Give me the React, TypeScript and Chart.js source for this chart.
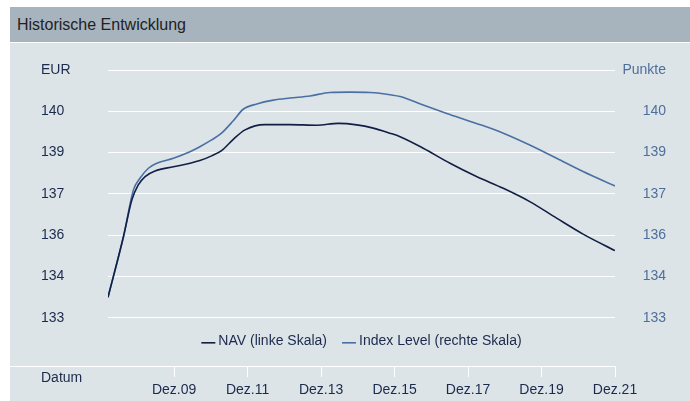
import React, { useEffect, useRef } from "react";
import { Chart, registerables } from "chart.js";

Chart.register(...registerables);

// ---- data ----
const navYears = [
  2008.15, 2008.57, 2008.8, 2008.97, 2009.16, 2009.43, 2009.93, 2010.38, 2010.65, 2010.97,
  2011.24, 2011.56, 2011.88, 2012.42, 2013.1, 2013.83, 2014.42, 2014.92, 2015.37, 2015.82,
  2016.1, 2016.73, 2017.46, 2018.18, 2018.91, 2019.63, 2020.36, 2021.08, 2021.95,
];
const navValues = [
  133.7, 135.75, 137.0, 137.5, 137.79, 137.98, 138.12, 138.24, 138.33, 138.49,
  138.67, 139.05, 139.37, 139.55, 139.55, 139.53, 139.59, 139.54, 139.43, 139.26,
  139.14, 138.75, 138.24, 137.79, 137.39, 136.94, 136.38, 135.84, 135.28,
];
const indexYears = [
  2008.15, 2008.57, 2008.84, 2009.02, 2009.25, 2009.48, 2009.93, 2010.38, 2010.65, 2010.97,
  2011.24, 2011.56, 2011.83, 2012.2, 2012.65, 2013.1, 2013.65, 2014.19, 2014.73, 2015.28,
  2015.55, 2016.1, 2016.73, 2017.37, 2018.18, 2018.91, 2019.63, 2020.36, 2021.08, 2021.95,
];
const indexValues = [
  133.7, 135.75, 137.33, 137.73, 138.07, 138.24, 138.41, 138.63, 138.8, 139.03,
  139.26, 139.68, 140.07, 140.25, 140.38, 140.45, 140.52, 140.64, 140.65, 140.64,
  140.61, 140.5, 140.21, 139.93, 139.59, 139.26, 138.86, 138.41, 137.96, 137.47,
];
const seriesLabels = ["NAV (linke Skala)", "Index Level (rechte Skala)"];
const yTickValues = [133, 134.4, 135.8, 137.2, 138.6, 140, 141.4];
const yMin = 131.37;
const yMax = 141.4;
const leftUnit = "EUR";
const rightUnit = "Punkte";
const xTickValues = [2009.95, 2011.95, 2013.95, 2015.95, 2017.95, 2019.95, 2021.95];
const xTickLabels = ["Dez.09", "Dez.11", "Dez.13", "Dez.15", "Dez.17", "Dez.19", "Dez.21"];
const xMin = 2008.15;
const xMax = 2021.95;
const xAxisName = "Datum";
const title = "Historische Entwicklung";

// ---- style ----
const FONT = "'Liberation Sans', Arial, Helvetica, sans-serif";
const NAVY = "#1b2a4c";
const NAV_COLOR = "#111f45";
const INDEX_COLOR = "#4a70a3";
const RIGHT_LABEL = "#4e6f9c";

const decorPlugin = {
  id: "decor",
  afterDraw(chart: any) {
    const { ctx, chartArea } = chart;
    ctx.save();
    // extend x-axis line to the left edge
    ctx.strokeStyle = "#ffffff";
    ctx.lineWidth = 1;
    ctx.beginPath();
    ctx.moveTo(0, Math.round(chartArea.bottom) + 0.5);
    ctx.lineTo(chartArea.left, Math.round(chartArea.bottom) + 0.5);
    ctx.stroke();

    ctx.font = `14px ${FONT}`;
    ctx.textBaseline = "middle";
    ctx.textAlign = "left";
    ctx.fillStyle = NAVY;
    ctx.fillText(xAxisName, 31, chartArea.bottom + 12);

    // legend
    const ly = chartArea.bottom - 25;
    const dash = 14;
    const gap = 3;
    const itemGap = 15;
    const colors = [NAV_COLOR, INDEX_COLOR];
    const widths = seriesLabels.map((s) => ctx.measureText(s).width);
    const total = widths.reduce((a, w) => a + dash + gap + w, 0) + itemGap;
    let x = (chartArea.left + chartArea.right) / 2 - total / 2;
    seriesLabels.forEach((s, i) => {
      ctx.fillStyle = colors[i];
      ctx.fillRect(x, ly + 1, dash, 1.6);
      x += dash + gap;
      ctx.fillStyle = NAVY;
      ctx.fillText(s, x, ly);
      x += widths[i] + itemGap;
    });
    ctx.restore();
  },
};

export default function App() {
  const ref = useRef<HTMLCanvasElement | null>(null);

  useEffect(() => {
    if (!ref.current) return;
    const chart = new Chart(ref.current, {
      type: "line",
      data: {
        datasets: [
          {
            label: seriesLabels[0],
            data: navYears.map((x, i) => ({ x, y: navValues[i] })),
            borderColor: NAV_COLOR,
            borderWidth: 1.6,
            pointRadius: 0,
            cubicInterpolationMode: "monotone",
            yAxisID: "y",
          },
          {
            label: seriesLabels[1],
            data: indexYears.map((x, i) => ({ x, y: indexValues[i] })),
            borderColor: INDEX_COLOR,
            borderWidth: 1.6,
            pointRadius: 0,
            cubicInterpolationMode: "monotone",
            yAxisID: "y1",
          },
        ],
      },
      options: {
        animation: false,
        responsive: true,
        maintainAspectRatio: false,
        layout: { padding: { left: 31, right: 24, top: 27, bottom: 0 } },
        plugins: { legend: { display: false }, tooltip: { enabled: false } },
        scales: {
          x: {
            type: "linear",
            min: xMin,
            max: xMax,
            afterBuildTicks: (s: any) => {
              s.ticks = xTickValues.map((v) => ({ value: v }));
            },
            afterFit: (s: any) => {
              s.height = 35;
            },
            grid: { drawOnChartArea: false, color: "#ffffff", tickLength: 11, lineWidth: 1 },
            border: { color: "#ffffff", width: 1 },
            ticks: {
              autoSkip: false,
              maxRotation: 0,
              padding: 5,
              color: NAVY,
              font: { family: FONT, size: 14 },
              callback: (v: any) => {
                const i = xTickValues.findIndex((t) => Math.abs(t - v) < 0.01);
                return i >= 0 ? xTickLabels[i] : "";
              },
            },
          },
          y: {
            position: "left",
            min: yMin,
            max: yMax,
            afterBuildTicks: (s: any) => {
              s.ticks = yTickValues.map((v) => ({ value: v }));
            },
            afterFit: (s: any) => {
              s.width = 67;
            },
            grid: { color: "#ffffff", lineWidth: 1, drawTicks: false },
            border: { display: false },
            ticks: {
              crossAlign: "far",
              padding: 0,
              color: NAVY,
              font: { family: FONT, size: 14 },
              callback: (v: any) => (Math.abs(v - yMax) < 0.01 ? leftUnit : String(Math.round(v))),
            },
          },
          y1: {
            position: "right",
            min: yMin,
            max: yMax,
            afterBuildTicks: (s: any) => {
              s.ticks = yTickValues.map((v) => ({ value: v }));
            },
            afterFit: (s: any) => {
              s.width = 51;
            },
            grid: { drawOnChartArea: false, drawTicks: false },
            border: { display: false },
            ticks: {
              crossAlign: "far",
              padding: 0,
              color: RIGHT_LABEL,
              font: { family: FONT, size: 14 },
              callback: (v: any) => (Math.abs(v - yMax) < 0.01 ? rightUnit : String(Math.round(v))),
            },
          },
        },
      },
      plugins: [decorPlugin],
    } as any);
    return () => chart.destroy();
  }, []);

  return (
    <div
      style={{
        position: "absolute",
        left: 10,
        top: 7,
        width: 680,
        height: 394,
        background: "#dde4e8",
        fontFamily: FONT,
      }}
    >
      <div
        style={{
          height: 35,
          background: "#a7b4be",
          borderBottom: "1px solid #ffffff",
          color: "#222222",
          fontSize: 16,
          lineHeight: "35px",
          paddingLeft: 7,
          boxSizing: "content-box",
        }}
      >
        {title}
      </div>
      <div style={{ position: "relative", width: 680, height: 358 }}>
        <canvas ref={ref} />
      </div>
    </div>
  );
}
